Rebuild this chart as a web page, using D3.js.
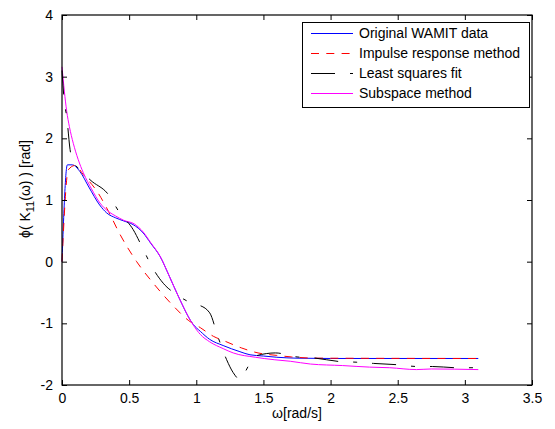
<!DOCTYPE html>
<html>
<head>
<meta charset="utf-8">
<script src="https://cdn.jsdelivr.net/npm/d3@7"></script>
<style>
  html, body { margin: 0; padding: 0; background: #fff; }
  svg { display: block; font-family: "Liberation Sans", Arial, sans-serif; }
</style>
</head>
<body>
<svg id="chart" width="555" height="429"></svg>
<script>
// ---- data ----
const xTicks = [0, 0.5, 1, 1.5, 2, 2.5, 3, 3.5];
const yTicks = [-2, -1, 0, 1, 2, 3, 4];

const wamitW = [0, 0.04, 0.077, 0.134, 0.2, 0.28, 0.333, 0.4, 0.46, 0.53, 0.605, 0.66, 0.73, 0.8, 0.866, 0.978, 1.03, 1.1, 1.2, 1.325, 1.4, 1.5, 1.6, 1.75, 2.0, 3.1];
const wamitV = [0, 1.57, 1.57, 1.46, 1.21, 0.92, 0.79, 0.71, 0.66, 0.60, 0.465, 0.30, 0.086, -0.24, -0.56, -1.02, -1.13, -1.26, -1.36, -1.46, -1.51, -1.53, -1.55, -1.565, -1.57, -1.57];

const impulseW = [0, 0.047, 0.097, 0.159, 0.27, 0.345, 0.43, 0.556, 0.68, 0.83, 0.94, 1.03, 1.127, 1.214, 1.338, 1.46, 1.6, 1.71, 1.9, 3.1];
const impulseV = [0, 1.49, 1.56, 1.41, 1.11, 0.82, 0.45, 0.0, -0.35, -0.72, -0.95, -1.07, -1.21, -1.29, -1.40, -1.48, -1.52, -1.545, -1.565, -1.57];

const lsqW = [0, 0.017, 0.035, 0.06, 0.08, 0.1, 0.159, 0.208, 0.345, 0.43, 0.53, 0.594, 0.668, 0.754, 0.854, 0.966, 1.015, 1.10, 1.16, 1.226, 1.275, 1.325, 1.36, 1.44, 1.59, 1.75, 1.87, 2.07, 2.19, 2.32, 2.49, 2.65, 2.76, 2.94, 3.1];
const lsqV = [3.1, 2.6, 2.35, 1.82, 1.6, 1.56, 1.44, 1.33, 1.09, 0.79, 0.52, 0.25, -0.076, -0.35, -0.535, -0.67, -0.70, -0.83, -1.21, -1.59, -1.80, -1.91, -1.80, -1.53, -1.48, -1.545, -1.56, -1.62, -1.63, -1.65, -1.67, -1.70, -1.70, -1.72, -1.72];

const subW = [0, 0.035, 0.055, 0.084, 0.12, 0.159, 0.22, 0.283, 0.345, 0.4, 0.46, 0.54, 0.605, 0.66, 0.73, 0.8, 0.866, 0.978, 1.03, 1.1, 1.2, 1.275, 1.44, 1.58, 1.70, 1.85, 2.09, 2.29, 2.44, 2.64, 2.75, 3.1];
const subV = [3.16, 2.44, 2.19, 1.92, 1.66, 1.44, 1.18, 0.95, 0.815, 0.74, 0.67, 0.61, 0.48, 0.31, 0.09, -0.24, -0.56, -1.03, -1.18, -1.30, -1.41, -1.48, -1.55, -1.59, -1.615, -1.66, -1.685, -1.71, -1.72, -1.75, -1.74, -1.75];

const seriesNames = ["Original WAMIT data", "Impulse response method", "Least squares fit", "Subspace method"];
const seriesColors = ["#0000ff", "#ff0000", "#000000", "#ff00ff"];
const seriesDash = [null, "8,7.3", "24,15,4,15", null];

// ---- layout ----
const svg = d3.select("#chart");
const L = 62, R = 532, T = 15, B = 385;
const x = d3.scaleLinear().domain([0, 3.5]).range([L, R]);
const y = d3.scaleLinear().domain([-2, 4]).range([B, T]);
const fontSize = 14;
const fmt = d => String(d);

const series = [
  wamitW.map((w, i) => [w, wamitV[i]]),
  impulseW.map((w, i) => [w, impulseV[i]]),
  lsqW.map((w, i) => [w, lsqV[i]]),
  subW.map((w, i) => [w, subV[i]])
];

const line = d3.line().x(d => x(d[0])).y(d => y(d[1])).curve(d3.curveMonotoneX);

// draw order: blue, red, magenta, black
const order = [0, 1, 3, 2];
const g = svg.append("g");
order.forEach(i => {
  g.append("path")
    .datum(series[i])
    .attr("d", line)
    .attr("fill", "none")
    .attr("stroke", seriesColors[i])
    .attr("stroke-width", 1)
    .attr("stroke-dasharray", seriesDash[i]);
});

// ---- axes ----
function styleAxis(sel) {
  sel.select(".domain").remove();
  sel.selectAll(".tick line").attr("stroke", "#000");
  sel.selectAll("text").attr("font-size", fontSize).attr("fill", "#000")
     .attr("font-family", "'Liberation Sans', Arial, sans-serif");
}
svg.append("g").attr("transform", `translate(0,${B})`)
  .call(d3.axisBottom(x).tickValues(xTicks).tickFormat(fmt).tickSizeInner(-5).tickSizeOuter(0).tickPadding(8))
  .call(styleAxis);
svg.append("g").attr("transform", `translate(0,${T})`)
  .call(d3.axisTop(x).tickValues(xTicks).tickFormat("").tickSizeInner(-5).tickSizeOuter(0))
  .call(styleAxis);
svg.append("g").attr("transform", `translate(${L},0)`)
  .call(d3.axisLeft(y).tickValues(yTicks).tickFormat(fmt).tickSizeInner(-5).tickSizeOuter(0).tickPadding(9))
  .call(styleAxis);
svg.append("g").attr("transform", `translate(${R},0)`)
  .call(d3.axisRight(y).tickValues(yTicks).tickFormat("").tickSizeInner(-5).tickSizeOuter(0))
  .call(styleAxis);

svg.append("rect")
  .attr("x", L).attr("y", T).attr("width", R - L).attr("height", B - T)
  .attr("fill", "none").attr("stroke", "#000").attr("stroke-width", 1.2);

// ---- axis labels ----
svg.append("text")
  .attr("x", (L + R) / 2).attr("y", 418)
  .attr("text-anchor", "middle").attr("font-size", fontSize)
  .text("ω[rad/s]");

const yl = svg.append("text")
  .attr("transform", `translate(30,189) rotate(-90)`)
  .attr("text-anchor", "middle").attr("font-size", fontSize);
yl.append("tspan").text("ϕ( K");
yl.append("tspan").attr("font-size", 11).attr("dy", 4).text("11");
yl.append("tspan").attr("dy", -4).text("(ω) ) [rad]");

// ---- legend ----
const lg = svg.append("g");
lg.append("rect").attr("x", 302.5).attr("y", 22.5).attr("width", 227).attr("height", 85)
  .attr("fill", "#fff").attr("stroke", "#000").attr("stroke-width", 1);
seriesNames.forEach((name, i) => {
  const yy = 33.5 + i * 20;
  lg.append("line").attr("x1", 311).attr("x2", 353).attr("y1", yy).attr("y2", yy)
    .attr("stroke", seriesColors[i]).attr("stroke-width", 1)
    .attr("stroke-dasharray", seriesDash[i]);
  lg.append("text").attr("x", 359).attr("y", yy).attr("dy", "0.35em")
    .attr("font-size", fontSize).text(name);
});
</script>
</body>
</html>
